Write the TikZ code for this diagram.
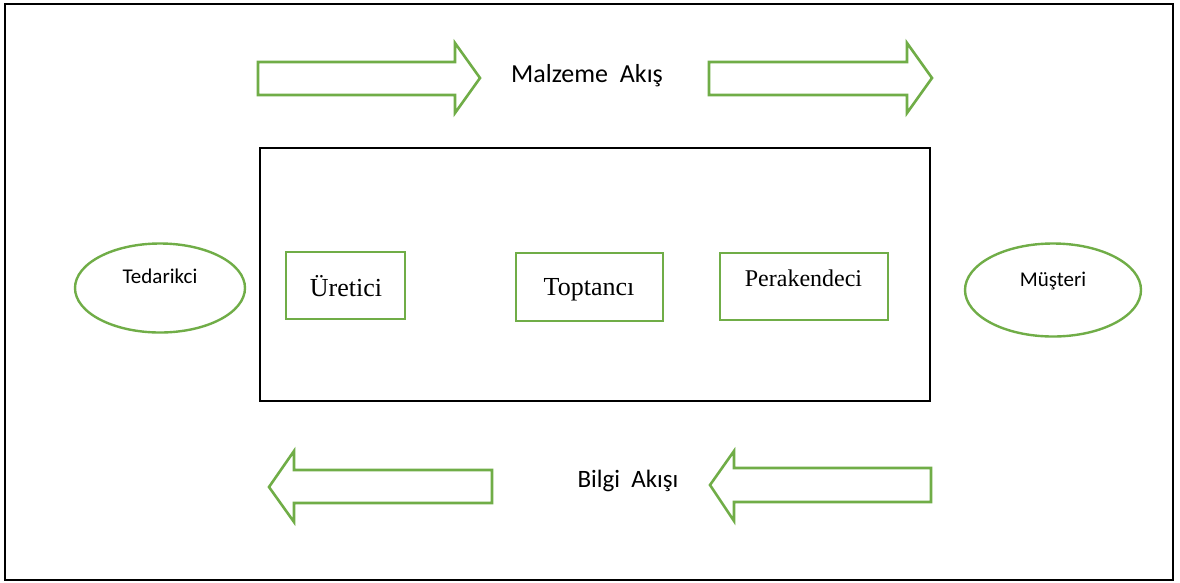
\documentclass[tikz,border=0pt]{standalone}
\usepackage{fontspec}
\setmainfont{Liberation Serif}
\newfontfamily\calibrifont{Carlito}
\usetikzlibrary{shapes.geometric}
\definecolor{officegreen}{HTML}{70AD47}
\begin{document}
\begin{tikzpicture}[x=1pt,y=-1pt,
  flowarrow/.style={draw=officegreen,line width=2.6pt,line join=miter,fill=white},
  actorbox/.style={draw=officegreen,line width=2.8pt,rectangle,inner sep=0pt},
  endpoint/.style={draw=officegreen,line width=2.4pt,ellipse,inner sep=0pt},
  sanslabel/.style={font=\calibrifont,anchor=base,inner sep=0pt},
  seriflabel/.style={font=\fontsize{26}{30}\selectfont,anchor=base,inner sep=0pt}]
\useasboundingbox (0,0) rectangle (1180,582);
\fill[white] (0,0) rectangle (1180,582);
% outer frame
\draw[line width=2pt] (5,4) rectangle (1173,580);
% supply chain frame
\draw[line width=2pt] (260,148) rectangle (930,401);

% material flow arrows (left to right)
\draw[flowarrow] (258,62) -- (455,62) -- (455,43) -- (480,78) -- (455,113) -- (455,95) -- (258,95) -- cycle;
\draw[flowarrow] (709,62) -- (907,62) -- (907,43) -- (932,78) -- (907,113) -- (907,95) -- (709,95) -- cycle;
\node[sanslabel,font=\calibrifont\fontsize{26}{30}\selectfont] (malzeme) at (587,82) {Malzeme\ \ Akış};

% information flow arrows (right to left)
\draw[flowarrow] (492,470) -- (294,470) -- (294,451) -- (269,487) -- (294,522) -- (294,503) -- (492,503) -- cycle;
\draw[flowarrow] (931,468) -- (734,468) -- (734,451) -- (710,485) -- (734,521) -- (734,502) -- (931,502) -- cycle;
\node[sanslabel,font=\calibrifont\fontsize{25}{30}\selectfont] (bilgi) at (628,487) {Bilgi\ \ Akışı};

% end points
\node[endpoint,minimum width=170pt,minimum height=89pt] (tedarikci) at (160,288) {};
\node[sanslabel,font=\calibrifont\fontsize{21}{25}\selectfont] (tedtext) at (160,283) {Tedarikci};
\node[endpoint,minimum width=176pt,minimum height=93pt] (musteri) at (1053,290) {};
\node[sanslabel,font=\calibrifont\fontsize{21}{25}\selectfont] (mustext) at (1053,286) {Müşteri};

% chain members
\node[actorbox,minimum width=119pt,minimum height=67pt] (uretici) at (345.5,285.5) {};
\node[seriflabel] (uretext) at (346,296) {Üretici};
\node[actorbox,minimum width=147pt,minimum height=68pt] (toptanci) at (589.5,287) {};
\node[seriflabel] (toptext) at (589,295) {Toptancı};
\node[actorbox,minimum width=168pt,minimum height=67pt] (perakendeci) at (804,286.5) {};
\node[seriflabel,font=\fontsize{24}{28}\selectfont] (peratext) at (803.5,286) {Perakendeci};
\end{tikzpicture}
\end{document}
